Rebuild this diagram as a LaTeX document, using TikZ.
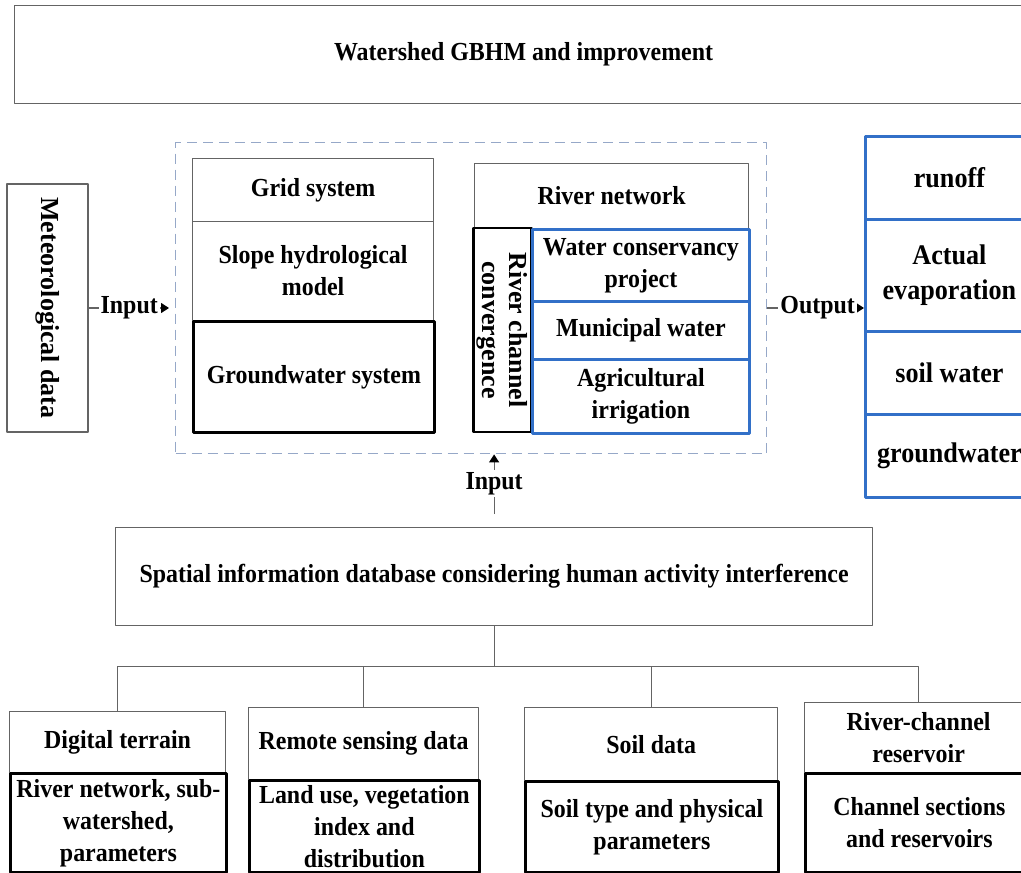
\documentclass[tikz,border=0pt]{standalone}
\usepackage{fontspec}
\setmainfont[FakeStretch=0.92]{Liberation Serif}
\newfontfamily\uprightfont{Liberation Serif}
\usetikzlibrary{arrows.meta}
\definecolor{boxblue}{RGB}{50,112,200}
\definecolor{dashgray}{RGB}{150,168,200}
\definecolor{linegray}{RGB}{100,100,100}
\begin{document}
\begin{tikzpicture}[x=0.5pt, y=-0.5pt, line join=round,
	>={Triangle[length=4pt,width=5pt,color=black]},
	font=\bfseries\fontsize{13}{16}\selectfont,
	wh/.style 2 args={minimum width=#1*0.5pt, minimum height=#2*0.5pt},
	cell/.style={anchor=north west, align=center, inner sep=2pt},
	thinbox/.style={cell, draw=linegray, line width=0.6pt},
	thickbox/.style={cell, draw=black, line width=1.4pt},
	bluebox/.style={cell, draw=boxblue, line width=1.4pt},
	outbox/.style={bluebox, font=\bfseries\fontsize{14.2}{17.5}\selectfont},
	turned/.style={rotate=-90, anchor=center, font=\uprightfont\bfseries\fontsize{13}{13.5}\selectfont},
	frame/.style={cell, draw=dashgray, line width=0.7pt, dash pattern=on 5pt off 3pt},
	link/.style={draw=linegray, line width=0.6pt},
	lbl/.style={fill=white, inner sep=1pt}]
	\useasboundingbox (0,0) rectangle (1021,872);
	\clip (0,0) rectangle (1021,872);
	% top
	\node[thinbox, wh={1018}{98}] (title) at (14,5) {Watershed GBHM and improvement};
	% model part
	\node[frame, wh={591}{311}] (frame) at (175,142) {};
	\node[thinbox, turned, wh={248}{81}] (met) at (47.5,308) {Meteorological data};
	\node[thinbox, wh={241}{63}] (grid) at (192,158) {Grid system};
	\node[thinbox, wh={241}{99}] (slope) at (192,221) {Slope hydrological\\model};
	\node[thickbox, wh={241}{111}] (gws) at (192,320) {Groundwater system};
	\node[thinbox, wh={274}{65}] (river) at (474,163) {River network};
	\node[thickbox, turned, wh={204}{57}] (rcc) at (502.5,330) {River channel\\convergence};
	\node[bluebox, wh={217}{72}] (wcp) at (531,228) {Water conservancy\\project};
	\node[bluebox, wh={217}{58}] (muni) at (531,300) {Municipal water};
	\node[bluebox, wh={217}{74}] (agri) at (531,358) {Agricultural\\irrigation};
	% outputs
	\node[outbox, wh={168}{83}] (runoff) at (864,135) {runoff};
	\node[outbox, wh={168}{112}] (evap) at (864,218) {Actual\\evaporation};
	\node[outbox, wh={168}{83}] (soilw) at (864,330) {soil water};
	\node[outbox, wh={168}{83}] (gw) at (864,413) {groundwater};
	% database
	\node[thinbox, wh={757}{98}] (spatial) at (115,527) {Spatial information database considering human activity interference};
	\node[thinbox, wh={216}{61}] (demtop) at (9,711) {Digital terrain};
	\node[thickbox, wh={216}{99}] (dem) at (9,772) {River network, sub-\\watershed,\\parameters};
	\node[thinbox, wh={230}{72}] (rstop) at (248,707) {Remote sensing data};
	\node[thickbox, wh={230}{92}] (rs) at (248,779) {Land use, vegetation\\index and\\distribution};
	\node[thinbox, wh={253}{73}] (soiltop) at (524,707) {Soil data};
	\node[thickbox, wh={253}{91}] (soil) at (524,780) {Soil type and physical\\parameters};
	\node[thinbox, wh={228}{70}] (rctop) at (804,702) {River-channel\\reservoir};
	\node[thickbox, wh={228}{99}] (rc) at (804,772) {Channel sections\\and reservoirs};
	% connectors
	\draw[link, ->, shorten >=3pt] (met.north) -- (met.north -| frame.west) node[pos=0.47, lbl]{Input};
	\draw[link, ->] (frame.east |- met.north) -- (evap.west |- met.north) node[pos=0.52, lbl]{Output};
	\draw[link, ->, shorten <=6.5pt] (spatial.north) -- (spatial.north |- frame.south) node[pos=0.6, lbl]{Input};
	\draw[link] (spatial.south) -- ++(0,40) coordinate (bus);
	\draw[link] (demtop.north) |- (bus) -| (rctop.north);
	\draw[link] (rstop.north) -- (rstop.north |- bus)
		(soiltop.north) -- (soiltop.north |- bus);
\end{tikzpicture}
\end{document}
